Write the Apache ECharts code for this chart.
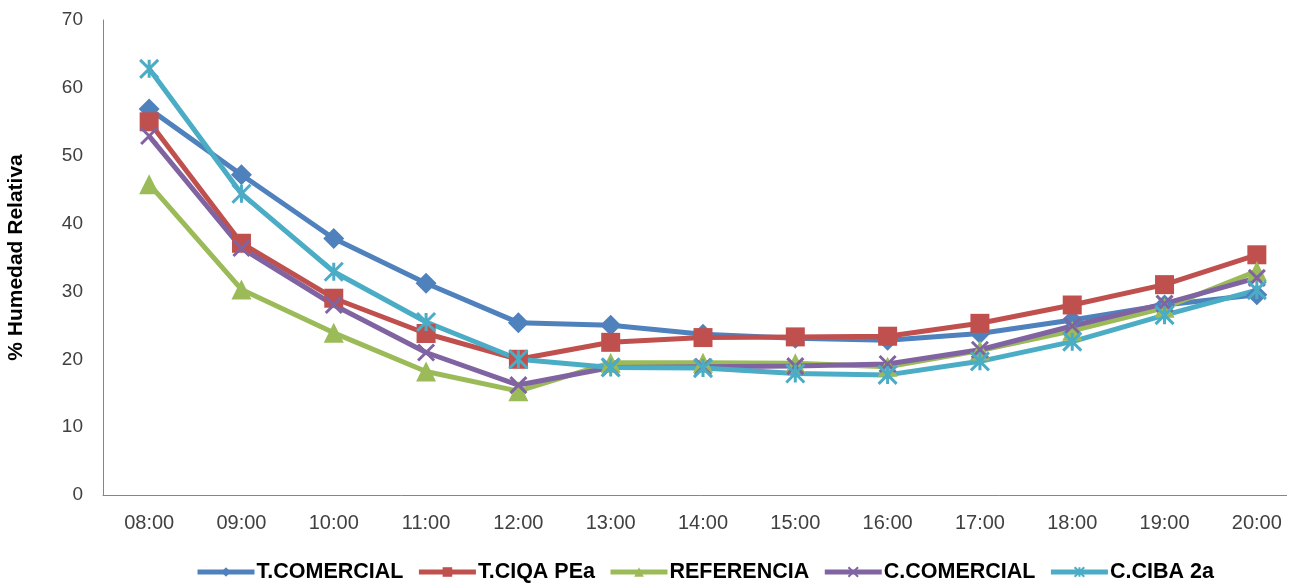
<!DOCTYPE html>
<html>
<head>
<meta charset="utf-8">
<title>% Humedad Relativa</title>
<script src="https://cdn.jsdelivr.net/npm/echarts@6/dist/echarts.min.js"></script>
<style>
  html, body { margin: 0; padding: 0; background: #ffffff; }
  #chart { width: 1298px; height: 583px; }
</style>
</head>
<body>
<div id="chart"></div>
<script>
// Hours of the day (x categories)
const hours = ['08:00', '09:00', '10:00', '11:00', '12:00', '13:00', '14:00',
               '15:00', '16:00', '17:00', '18:00', '19:00', '20:00'];

// Relative humidity (%) per treatment
const tComercial  = [56.9, 47.2, 37.8, 31.2, 25.4, 25.0, 23.7, 23.1, 22.8, 23.8, 25.8, 28.0, 29.5];
const tCiqaPEa    = [55.0, 37.1, 29.0, 23.8, 20.0, 22.5, 23.2, 23.3, 23.4, 25.3, 28.0, 31.0, 35.4];
const referencia  = [45.8, 30.3, 23.9, 18.2, 15.3, 19.5, 19.5, 19.4, 18.9, 21.3, 24.2, 27.6, 33.0];
const cComercial  = [52.9, 36.4, 28.0, 21.0, 16.2, 18.8, 18.9, 19.0, 19.3, 21.4, 24.9, 28.2, 32.0];
const cCiba2a     = [62.8, 44.4, 32.9, 25.5, 20.0, 18.8, 18.7, 17.9, 17.7, 19.7, 22.6, 26.5, 30.2];

// Y axis range / ticks
const yMin = 0, yMax = 70, yStep = 10;

const seriesDefs = [
  { name: 'T.COMERCIAL', data: tComercial, color: '#4F81BD', symbol: 'diamond', size: 21, stroke: 0 },
  { name: 'T.CIQA PEa',  data: tCiqaPEa,   color: '#C0504D', symbol: 'rect',    size: 19, stroke: 0 },
  { name: 'REFERENCIA',  data: referencia, color: '#9BBB59', symbol: 'triangle',size: 20, stroke: 0 },
  { name: 'C.COMERCIAL', data: cComercial, color: '#8064A2',
    symbol: 'path://M0,0L10,10M0,10L10,0', size: 16, stroke: 3 },
  { name: 'C.CIBA 2a',   data: cCiba2a,    color: '#4BACC6',
    symbol: 'path://M5,0L5,10M0,0L10,10M0,10L10,0', size: 18, stroke: 3 }
];

const FONT = 'Liberation Sans, Arial, sans-serif';

const chart = echarts.init(document.getElementById('chart'), null, { renderer: 'canvas' });

chart.setOption({
  animation: false,
  backgroundColor: '#ffffff',
  grid: { left: 103, right: -5, top: 20, bottom: 88, containLabel: false, outerBoundsMode: 'none' },
  legend: {
    left: 190,
    top: 556,
    itemWidth: 57,
    itemHeight: 12,
    itemGap: 13,
    lineStyle: { width: 5 },
    textStyle: { fontFamily: FONT, fontSize: 21.5, fontWeight: 'bold', color: '#000000', padding: [0, 0, 0, -3] },
    data: seriesDefs.map(s => s.name)
  },
  // plot area frame stops a little short of the page's right edge
  graphic: [{
    type: 'rect',
    shape: { x: 1287, y: 490, width: 20, height: 10 },
    style: { fill: '#ffffff' },
    silent: true,
    z: 100
  }],
  xAxis: {
    type: 'category',
    data: hours,
    boundaryGap: true,
    axisLine: { lineStyle: { color: '#868686', width: 1 } },
    axisTick: { show: false },
    axisLabel: { margin: 18, fontFamily: FONT, fontSize: 20, color: '#404040' },
    splitLine: { show: false }
  },
  yAxis: {
    type: 'value',
    min: yMin, max: yMax, interval: yStep,
    name: '% Humedad Relativa',
    nameLocation: 'middle',
    nameGap: 76,
    nameTextStyle: { fontFamily: FONT, fontSize: 21, fontWeight: 'bold', color: '#000000' },
    axisLine: { show: true, lineStyle: { color: '#868686', width: 1 } },
    axisTick: { show: false },
    axisLabel: { margin: 20, fontFamily: FONT, fontSize: 19, color: '#404040' },
    splitLine: { show: false }
  },
  series: seriesDefs.map(s => ({
    name: s.name,
    type: 'line',
    data: s.data,
    symbol: s.symbol,
    symbolSize: s.size,
    showAllSymbol: true,
    lineStyle: { color: s.color, width: 5 },
    itemStyle: { color: s.color, borderColor: s.color, borderWidth: s.stroke },
    emphasis: { disabled: true }
  }))
});
</script>
</body>
</html>
